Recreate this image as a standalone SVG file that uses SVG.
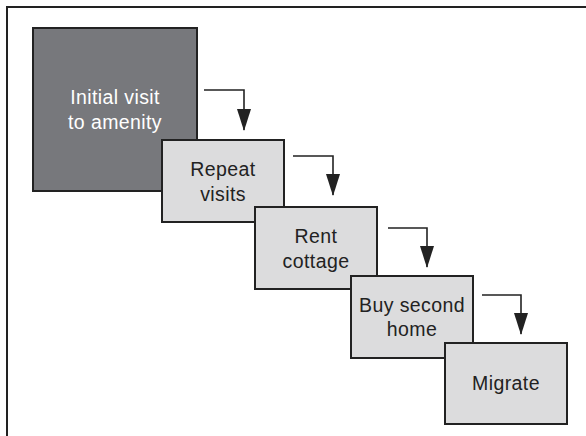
<svg xmlns="http://www.w3.org/2000/svg" width="586" height="436" viewBox="0 0 586 436">
<style>
  .box { fill: #dcdcdd; stroke: #222; stroke-width: 2; }
  .dark { fill: #77787c; stroke: #222; stroke-width: 2; }
  .lbl { font-family: "Liberation Sans", Arial, sans-serif; font-size: 19.5px; letter-spacing: 0.4px; text-anchor: middle; fill: #222; }
  .lblw { fill: #ffffff; }
  .conn { fill: none; stroke: #222; stroke-width: 1.6; }
</style>
<defs>
  <marker id="ah" markerUnits="userSpaceOnUse" markerWidth="22" markerHeight="14" viewBox="0 0 22 14" refX="21" refY="7" orient="auto">
    <path d="M0,0 L22,7 L0,14 Z" fill="#222"/>
  </marker>
</defs>
<path d="M7,436 V7 H586" fill="none" stroke="#222" stroke-width="2"/>
<g id="n1">
  <rect class="dark" x="33" y="28" width="164" height="163"/>
  <text class="lbl lblw" x="115" y="104">Initial visit</text>
  <text class="lbl lblw" x="115" y="128.5">to amenity</text>
</g>
<g id="n2">
  <rect class="box" x="162" y="140" width="122" height="82"/>
  <text class="lbl" x="223" y="175.5">Repeat</text>
  <text class="lbl" x="223" y="200.5">visits</text>
</g>
<g id="n3">
  <rect class="box" x="255" y="207" width="122" height="82"/>
  <text class="lbl" x="316" y="243">Rent</text>
  <text class="lbl" x="316" y="268">cottage</text>
</g>
<g id="n4">
  <rect class="box" x="351" y="276" width="122" height="82"/>
  <text class="lbl" x="412" y="311.5">Buy second</text>
  <text class="lbl" x="412" y="336">home</text>
</g>
<g id="n5">
  <rect class="box" x="445" y="343" width="122" height="81"/>
  <text class="lbl" x="506" y="390">Migrate</text>
</g>
<g id="connectors">
  <path class="conn" d="M204,90 H244 V130" marker-end="url(#ah)"/>
  <path class="conn" d="M293,156 H333 V195" marker-end="url(#ah)"/>
  <path class="conn" d="M388,228 H427 V267" marker-end="url(#ah)"/>
  <path class="conn" d="M482,295 H521 V334" marker-end="url(#ah)"/>
</g>
</svg>
